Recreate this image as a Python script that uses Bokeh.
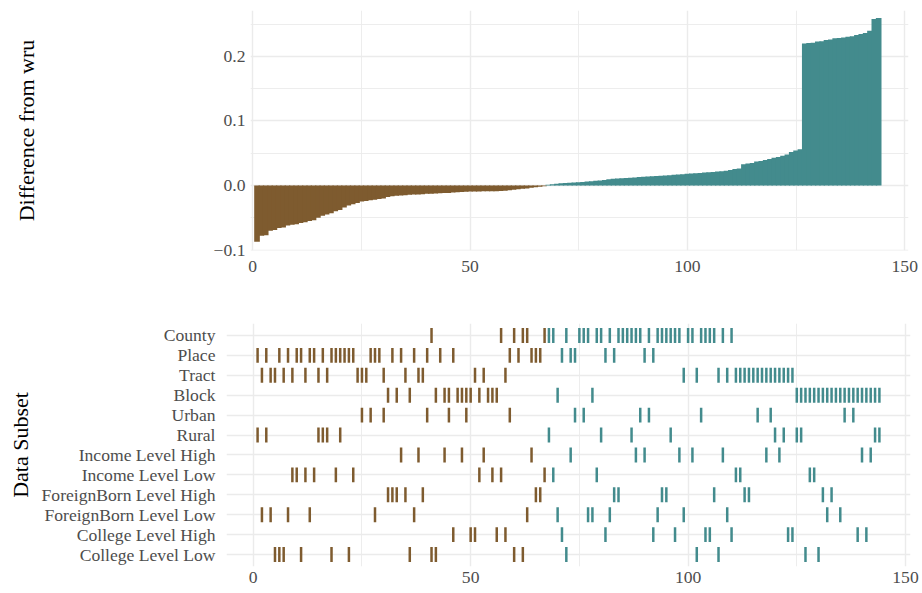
from bokeh.plotting import figure
from bokeh.models import Range1d, FixedTicker, CustomJSTickFormatter, ColumnDataSource
from bokeh.embed import file_html
from bokeh.resources import INLINE

# Sorted differences from wru, one per rank (1..144)
neg_diffs = [
    -0.087, -0.078, -0.077, -0.070, -0.069, -0.066, -0.065, -0.062, -0.061, -0.060,
    -0.058, -0.057, -0.055, -0.054, -0.050, -0.047, -0.045, -0.043, -0.040, -0.038,
    -0.034, -0.031, -0.029, -0.027, -0.025, -0.024, -0.023, -0.022, -0.021, -0.020,
    -0.018, -0.0165, -0.016, -0.0155, -0.015, -0.0145, -0.014, -0.0138, -0.0135, -0.013,
    -0.0128, -0.0125, -0.012, -0.0118, -0.0115, -0.011, -0.0105, -0.010, -0.0098, -0.0095,
    -0.0093, -0.0092, -0.0091, -0.0090, -0.0089, -0.0088, -0.0087, -0.0080, -0.0072, -0.0065,
    -0.0060, -0.0052, -0.0045, -0.0035, -0.0028, -0.0020, -0.0012,
]
pos_diffs = [
    0.0010, 0.0018, 0.0025, 0.0033, 0.0038, 0.0042, 0.0046, 0.0050, 0.0055, 0.0060,
    0.0066, 0.0072, 0.0078, 0.0085, 0.0095, 0.0104, 0.0108, 0.0112, 0.0116, 0.0120,
    0.0125, 0.0130, 0.0135, 0.0140, 0.0144, 0.0148, 0.0152, 0.0156, 0.0160, 0.0165,
    0.0170, 0.0175, 0.0180, 0.0185, 0.0190, 0.0195, 0.0200, 0.0205, 0.0210, 0.0215,
    0.0222, 0.0230, 0.0240, 0.0255, 0.0262, 0.0330, 0.0340, 0.0350, 0.0370, 0.0380,
    0.0395, 0.0410, 0.0430, 0.0440, 0.0460, 0.0480, 0.0520, 0.0540, 0.0560, 0.2200,
    0.2205, 0.2210, 0.2230, 0.2235, 0.2255, 0.2260, 0.2280, 0.2285, 0.2290, 0.2305,
    0.2310, 0.2330, 0.2345, 0.2360, 0.2395, 0.2578, 0.2594,
]

# Rank positions of each data subset
subsets = [
    "County", "Place", "Tract", "Block", "Urban", "Rural",
    "Income Level High", "Income Level Low",
    "ForeignBorn Level High", "ForeignBorn Level Low",
    "College Level High", "College Level Low",
]
county = [41, 57, 60, 62, 63, 67, 68, 69, 72, 75, 76, 77, 79, 80, 82, 84, 85, 86, 87, 88,
          89, 91, 93, 94, 95, 96, 97, 98, 100, 101, 103, 104, 105, 106, 108, 110]
place = [1, 3, 6, 8, 10, 11, 13, 14, 16, 18, 19, 20, 21, 22, 23, 27, 28, 29, 32, 34,
         37, 40, 43, 46, 59, 61, 64, 65, 66, 71, 73, 74, 81, 83, 90, 92]
tract = [2, 4, 5, 7, 9, 12, 15, 17, 24, 25, 26, 30, 35, 38, 39, 51, 53, 58, 99, 102,
         107, 109, 111, 112, 113, 114, 115, 116, 117, 118, 119, 120, 121, 122, 123, 124]
block = [31, 33, 36, 42, 44, 45, 47, 48, 49, 50, 52, 54, 55, 56, 70, 78, 125, 126, 127, 128,
         129, 130, 131, 132, 133, 134, 135, 136, 137, 138, 139, 140, 141, 142, 143, 144]
urban = [25, 27, 30, 40, 45, 49, 59, 74, 76, 89, 91, 103, 116, 119, 136, 138]
rural = [1, 3, 15, 16, 17, 20, 68, 80, 87, 96, 120, 122, 125, 126, 143, 144]
income_high = [34, 38, 44, 48, 53, 64, 73, 88, 90, 98, 101, 108, 118, 121, 140, 142]
income_low = [9, 10, 12, 14, 19, 23, 52, 55, 57, 67, 69, 79, 111, 112, 128, 129]
foreign_high = [31, 32, 33, 35, 39, 65, 66, 83, 84, 94, 95, 106, 113, 114, 131, 133]
foreign_low = [2, 4, 8, 13, 28, 37, 63, 70, 77, 78, 82, 93, 99, 109, 132, 135]
college_high = [46, 50, 51, 56, 58, 71, 81, 92, 97, 104, 105, 110, 123, 124, 139, 141]
college_low = [5, 6, 7, 11, 18, 22, 36, 41, 42, 60, 62, 72, 102, 107, 127, 130]

subset_ranks = [county, place, tract, block, urban, rural, income_high, income_low,
                foreign_high, foreign_low, college_high, college_low]

BROWN = "#7E5B2F"
TEAL = "#438B8D"
GRID = "#EBEBEB"
FONT = "Liberation Serif"
TICK_COLOR = "#4D4D4D"

diffs = neg_diffs + pos_diffs
ranks = list(range(1, len(diffs) + 1))
bar_colors = [BROWN if d < 0 else TEAL for d in diffs]

x_ticker = FixedTicker(ticks=[0, 50, 100, 150], minor_ticks=[25, 75, 125])


def style(p):
    p.outline_line_color = None
    p.background_fill_color = "white"
    p.border_fill_color = "white"
    for ax in (p.xaxis[0], p.yaxis[0]):
        ax.axis_line_color = None
        ax.major_tick_line_color = None
        ax.minor_tick_line_color = None
        ax.major_tick_out = 0
        ax.major_tick_in = 0
        ax.minor_tick_out = 0
        ax.minor_tick_in = 0
        ax.major_label_text_font = FONT
        ax.major_label_text_font_size = "17.6px"
        ax.major_label_text_color = TICK_COLOR
        ax.axis_label_text_font = FONT
        ax.axis_label_text_font_size = "22px"
        ax.axis_label_text_font_style = "normal"
        ax.axis_label_text_color = "black"
    p.xgrid.grid_line_color = GRID
    p.xgrid.grid_line_width = 1.4
    p.xgrid.minor_grid_line_color = GRID
    p.xgrid.minor_grid_line_width = 0.9
    p.ygrid.grid_line_color = GRID
    p.ygrid.grid_line_width = 1.4


# ---- top panel: sorted differences ----
top = figure(
    frame_width=658, frame_height=240,
    min_border_left=250, min_border_right=14, min_border_top=10, min_border_bottom=40,
    x_range=Range1d(-0.5, 150.86),
    y_range=Range1d(-0.1007, 0.2710),
    output_backend="svg", toolbar_location=None,
)
style(top)
top.xaxis.ticker = x_ticker
top.yaxis.ticker = FixedTicker(ticks=[-0.1, 0.0, 0.1, 0.2], minor_ticks=[-0.05, 0.05, 0.15, 0.25])
top.yaxis.formatter = CustomJSTickFormatter(code="return tick.toFixed(1).replace('-', '\\u2212');")
top.ygrid.minor_grid_line_color = GRID
top.ygrid.minor_grid_line_width = 0.9
top.yaxis.axis_label = "Difference from wru"
top.yaxis.major_label_standoff = 5
top.yaxis.axis_label_standoff = 172
top.xaxis.major_label_standoff = 10

bar_src = ColumnDataSource(dict(x=ranks, top=diffs, color=bar_colors))
top.vbar(x="x", top="top", bottom=0, width=1.3, source=bar_src,
         fill_color="color", line_color=None)

# ---- bottom panel: rank positions per data subset ----
n = len(subsets)
rows_y = {name: n - i for i, name in enumerate(subsets)}
span = ranks[-1] - ranks[0]

bottom = figure(
    frame_width=684, frame_height=243,
    min_border_left=226, min_border_right=12, min_border_top=33, min_border_bottom=27,
    x_range=Range1d(ranks[0] - 0.05 * span, ranks[-1] + 0.05 * span),
    y_range=Range1d(0.4, n + 0.6),
    output_backend="svg", toolbar_location=None,
)
style(bottom)
bottom.xaxis.ticker = x_ticker
bottom.yaxis.ticker = FixedTicker(ticks=list(range(1, n + 1)), minor_ticks=[])
bottom.yaxis.major_label_overrides = {rows_y[name]: name for name in subsets}
bottom.yaxis.axis_label = "Data Subset"
bottom.yaxis.major_label_standoff = 11
bottom.yaxis.axis_label_standoff = 6
bottom.xaxis.major_label_standoff = 5

tx, ty, tc = [], [], []
for name, rk in zip(subsets, subset_ranks):
    for r in rk:
        tx.append(r)
        ty.append(rows_y[name])
        tc.append(bar_colors[r - 1])
tick_src = ColumnDataSource(dict(x=tx, y=ty, color=tc))
bottom.rect(x="x", y="y", width=2.5, width_units="screen", height=0.75,
            source=tick_src, fill_color="color", line_color=None)

# the two panels are separate roots so each keeps its own frame position
open("out.html", "w").write(file_html([top, bottom], INLINE))
